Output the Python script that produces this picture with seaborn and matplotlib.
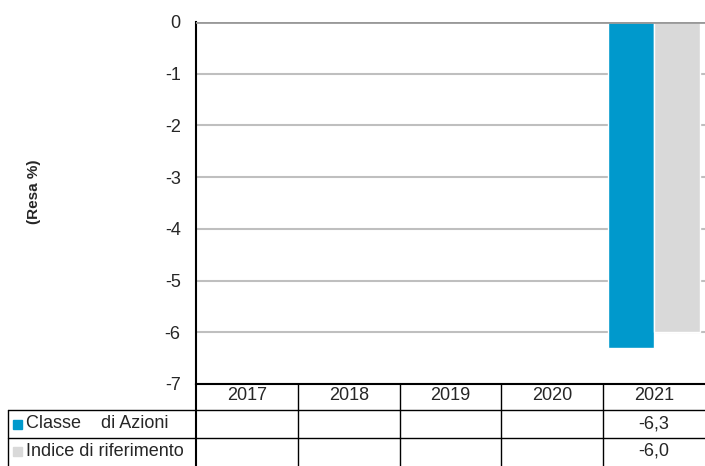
import numpy as np
import pandas as pd
import seaborn as sns
import matplotlib.pyplot as plt
from matplotlib.patches import Rectangle
from matplotlib.transforms import blended_transform_factory

# dati
years = ['2017', '2018', '2019', '2020', '2021']
series_names = ['Classe    di Azioni', 'Indice di riferimento']
classe = [np.nan, np.nan, np.nan, np.nan, -6.3]
indice = [np.nan, np.nan, np.nan, np.nan, -6.0]
colors = ['#0099CC', '#D9D9D9']
y_ticks = [0, -1, -2, -3, -4, -5, -6, -7]

df = pd.DataFrame({
    'anno': years * 2,
    'resa': classe + indice,
    'serie': [series_names[0]] * len(years) + [series_names[1]] * len(years),
})

sns.set_style('white')
plt.rcParams['font.family'] = ['Liberation Sans', 'DejaVu Sans']

W, H = 705, 466
FS = 13
fig = plt.figure(figsize=(W / 100, H / 100), dpi=100)
ax = fig.add_axes([196 / W, 1 - 384 / H, 509 / W, 362 / H])

sns.barplot(data=df, x='anno', y='resa', hue='serie', order=years,
            hue_order=series_names, palette=colors, width=0.9, saturation=1,
            ax=ax, legend=False, zorder=3)

ax.set_ylim(-7, 0)
ax.set_xlim(-0.5, len(years) - 0.5)
ax.set_yticks(y_ticks)
ax.set_yticklabels([str(t) for t in y_ticks])
ax.grid(axis='y', color='#BFBFBF', lw=1.5, zorder=0)
ax.grid(axis='x', visible=False)
ax.axhline(0, color='#999999', lw=2, zorder=4)
ax.tick_params(axis='y', length=0, pad=11, labelsize=FS)
ax.tick_params(axis='x', length=0, labelbottom=False)
ax.set_xlabel('')
ax.set_ylabel('')
for s in ['top', 'right']:
    ax.spines[s].set_visible(False)
ax.spines['left'].set_color('black')
ax.spines['left'].set_linewidth(1.5)
ax.spines['bottom'].set_color('black')
ax.spines['bottom'].set_linewidth(1.5)

fig.text(34 / W, 1 - 192 / H, '(Resa %)', rotation=90, fontweight='bold',
         fontsize=11, ha='center', va='center')

# tabella sotto il grafico
trans = blended_transform_factory(ax.transData, fig.transFigure)
fy = lambda px: 1 - px / H
header_y, row_y = fy(396), [fy(424), fy(451)]
values = [classe, indice]

for i, yr in enumerate(years):
    ax.text(i, header_y, yr, transform=trans, ha='center', va='center',
            fontsize=FS, clip_on=False)
    for r, vals in enumerate(values):
        v = vals[i]
        if not np.isnan(v):
            ax.text(i, row_y[r], f'{v:.1f}'.replace('.', ','), transform=trans,
                    ha='center', va='center', fontsize=FS, clip_on=False)

for i in range(len(years)):
    ax.plot([i - 0.5, i - 0.5], [fy(384), 0], transform=trans, color='black',
            lw=1.5 if i == 0 else 1, clip_on=False)

for yy in [fy(410), fy(438)]:
    fig.add_artist(plt.Line2D([8 / W, 1], [yy, yy], color='black', lw=1))
fig.add_artist(plt.Line2D([8 / W, 8 / W], [fy(410), 0], color='black', lw=1))

for r, name in enumerate(series_names):
    fig.add_artist(Rectangle((13 / W, row_y[r] - 4.5 / H), 9 / W, 9 / H,
                             color=colors[r], transform=fig.transFigure))
    fig.text(26 / W, row_y[r], name, ha='left', va='center', fontsize=FS)

fig.savefig('out.png', dpi=100)
